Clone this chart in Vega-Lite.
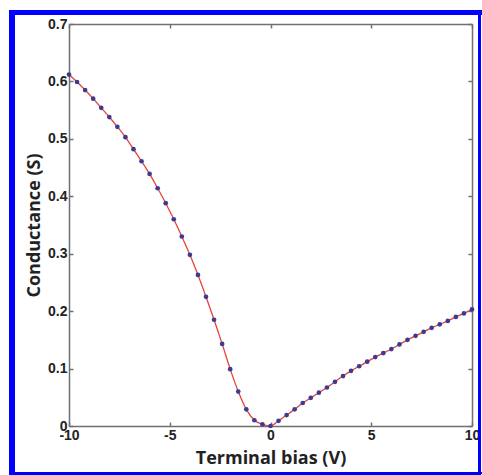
{
  "$schema": "https://vega.github.io/schema/vega-lite/v6.json",
  "width": 403,
  "height": 402,
  "autosize": "none",
  "padding": {"left": 69, "top": 24, "right": 10, "bottom": 49},
  "background": "white",
  "config": {
    "view": {"stroke": null},
    "axis": {
      "grid": false,
      "domainColor": "#707070",
      "domainWidth": 1.5,
      "tickColor": "#707070",
      "tickWidth": 1.5,
      "tickSize": -4,
      "labelFlush": false,
      "labelFont": "Liberation Sans",
      "labelFontWeight": "bold",
      "labelFontSize": 14,
      "labelColor": "#222",
      "titleFont": "Open Sans",
      "titleFontWeight": "bold",
      "titleFontSize": 18,
      "titleColor": "#222"
    }
  },
  "data": {
    "values": [
      {"V": -10, "G": 0.612}, {"V": -9.6, "G": 0.599}, {"V": -9.2, "G": 0.585},
      {"V": -8.8, "G": 0.570}, {"V": -8.4, "G": 0.554}, {"V": -8.0, "G": 0.538},
      {"V": -7.6, "G": 0.521}, {"V": -7.2, "G": 0.503}, {"V": -6.8, "G": 0.482},
      {"V": -6.4, "G": 0.461}, {"V": -6.0, "G": 0.439}, {"V": -5.6, "G": 0.414},
      {"V": -5.2, "G": 0.388}, {"V": -4.8, "G": 0.360}, {"V": -4.4, "G": 0.330},
      {"V": -4.0, "G": 0.298}, {"V": -3.6, "G": 0.263}, {"V": -3.2, "G": 0.225},
      {"V": -2.8, "G": 0.185}, {"V": -2.4, "G": 0.143}, {"V": -2.0, "G": 0.099},
      {"V": -1.6, "G": 0.060}, {"V": -1.2, "G": 0.029}, {"V": -0.8, "G": 0.010},
      {"V": -0.4, "G": 0.003}, {"V": 0, "G": 0.000}, {"V": 0.4, "G": 0.009},
      {"V": 0.8, "G": 0.019}, {"V": 1.2, "G": 0.029}, {"V": 1.6, "G": 0.040},
      {"V": 2.0, "G": 0.049}, {"V": 2.4, "G": 0.058}, {"V": 2.8, "G": 0.067},
      {"V": 3.2, "G": 0.077}, {"V": 3.6, "G": 0.087}, {"V": 4.0, "G": 0.096},
      {"V": 4.4, "G": 0.104}, {"V": 4.8, "G": 0.112}, {"V": 5.2, "G": 0.120},
      {"V": 5.6, "G": 0.127}, {"V": 6.0, "G": 0.134}, {"V": 6.4, "G": 0.142},
      {"V": 6.8, "G": 0.150}, {"V": 7.2, "G": 0.157}, {"V": 7.6, "G": 0.164},
      {"V": 8.0, "G": 0.171}, {"V": 8.4, "G": 0.177}, {"V": 8.8, "G": 0.183},
      {"V": 9.2, "G": 0.190}, {"V": 9.6, "G": 0.196}, {"V": 10, "G": 0.203}
    ]
  },
  "layer": [
    {
      "mark": {"type": "line", "color": "#e8403a", "strokeWidth": 1.3, "interpolate": "monotone"},
      "encoding": {
        "x": {"field": "V", "type": "quantitative", "scale": {"domain": [-10, 10], "nice": false},
          "axis": {"orient": "bottom", "values": [-10, -5, 0, 5, 10], "labelExpr": "'' + datum.value", "title": "Terminal bias (V)", "labelPadding": 6, "titlePadding": 7}},
        "y": {"field": "G", "type": "quantitative", "scale": {"domain": [0, 0.7], "nice": false, "zero": false},
          "axis": {"orient": "left", "values": [0, 0.1, 0.2, 0.3, 0.4, 0.5, 0.6, 0.7], "labelExpr": "'' + datum.value", "title": "Conductance (S)", "labelPadding": 6, "titlePadding": 4}}
      }
    },
    {
      "mark": {"type": "point", "filled": true, "color": "#3b3b90", "opacity": 1, "size": 22},
      "encoding": {
        "x": {"field": "V", "type": "quantitative",
          "axis": {"orient": "top", "values": [-10, -5, 0, 5, 10], "labels": false, "title": null}},
        "y": {"field": "G", "type": "quantitative",
          "axis": {"orient": "right", "values": [0, 0.1, 0.2, 0.3, 0.4, 0.5, 0.6, 0.7], "labels": false, "title": null}}
      }
    },
    {
      "mark": {"type": "rule", "color": "#0000ff", "strokeWidth": 5, "clip": false},
      "encoding": {"x": {"datum": -12.85, "type": "quantitative", "axis": null}, "y": {"datum": 0.7245, "type": "quantitative", "axis": null}, "y2": {"datum": -0.0835}}
    },
    {
      "mark": {"type": "rule", "color": "#0000ff", "strokeWidth": 5, "clip": false},
      "encoding": {"y": {"datum": 0.7201, "type": "quantitative", "axis": null}, "x": {"datum": -12.97, "type": "quantitative", "axis": null}, "x2": {"datum": 10.45}}
    },
    {
      "mark": {"type": "rule", "color": "#0000ff", "strokeWidth": 2, "clip": false},
      "encoding": {"x": {"datum": 10.37, "type": "quantitative", "axis": null}, "y": {"datum": 0.7245, "type": "quantitative", "axis": null}, "y2": {"datum": -0.0835}}
    },
    {
      "mark": {"type": "rule", "color": "#0000ff", "strokeWidth": 2, "clip": false},
      "encoding": {"y": {"datum": -0.0824, "type": "quantitative", "axis": null}, "x": {"datum": -12.97, "type": "quantitative", "axis": null}, "x2": {"datum": 10.45}}
    }
  ],
  "resolve": {"axis": {"x": "independent", "y": "independent"}}
}
